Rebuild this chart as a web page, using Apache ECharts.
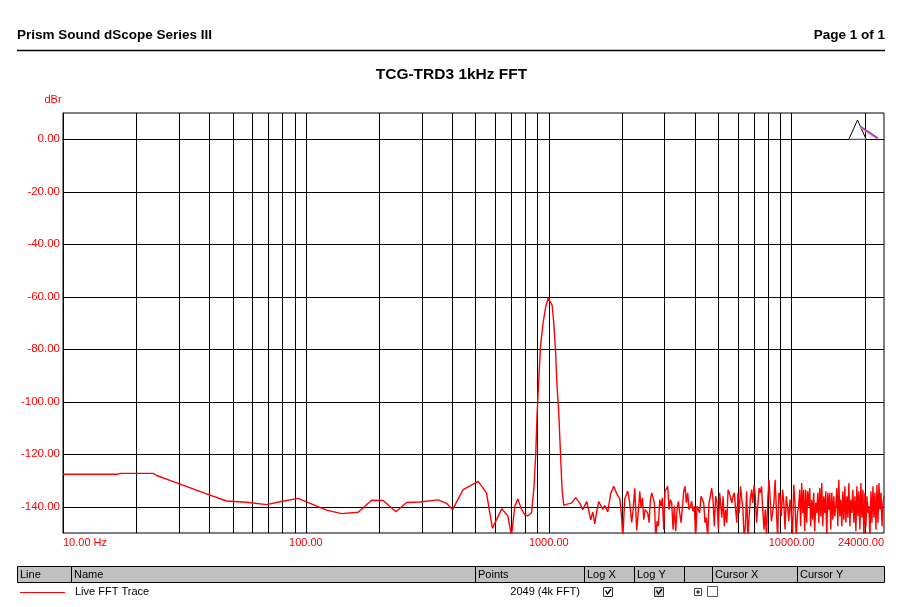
<!DOCTYPE html>
<html><head><meta charset="utf-8">
<script src="https://cdn.jsdelivr.net/npm/echarts@6/dist/echarts.min.js"></script>
<style>html,body{margin:0;padding:0;background:#fff}#c{width:903px;height:607px}</style>
</head><body><div id="c"></div>
<script>
// ---- texts ----
const headerLeft = 'Prism Sound dScope Series III';
const headerRight = 'Page 1 of 1';
const chartTitle = 'TCG-TRD3 1kHz FFT';
const yUnit = 'dBr';
const tableHeaders = ['Line', 'Name', 'Points', 'Log X', 'Log Y', '', 'Cursor X', 'Cursor Y'];
const traceName = 'Live FFT Trace';
const tracePoints = '2049 (4k FFT)';

// ---- axes ----
const yMin = -150, yMax = 10, yStep = 10;
const yGridValues = [0, -20, -40, -60, -80, -100, -120, -140];
const xMin = 10, xMax = 24000;
const xGridHz = [20,30,40,50,60,70,80,90,100,200,300,400,500,600,700,800,900,1000,
  2000,3000,4000,5000,6000,7000,8000,9000,10000,20000];

// ---- trace, low / peak region (Hz, dBr) ----
const traceHz = [10,16.8,17.2,23.5,24.3,29.4,40.3,47.2,57.0,68.9,78.2,93.0,107.2,121.7,140.3,164.1,186.4,208.0,
  234.6,259.7,294.5,350.3,379.3,401.6,444.0,512.0,554.2,571.8,586.6,609.3,640.7,678.2,702.4,724.7,745.6,772.2,
  796.7,819.7,849.0,867.7,884.3,895.3,909.7,924.4,947.4,971.9,993.4,1009.5,1031.8,1048.6,1065.6,1081.9,1099.6,
  1117.2,1134.2,1152.7,1190,1240,1291,1341,1380,1433,1489,1517,1546,1575,1606,1668,1700,1749,1799,1851,1905,
  1960,1998,2017,2055,2114,2154,2195,2226,2259,2302,2346];
const traceDb = [-127.6,-127.6,-127.3,-127.3,-128.1,-130.9,-135.6,-137.8,-138.3,-139.2,-138.1,-136.8,-139.2,-141.3,
  -142.6,-142.1,-137.5,-137.6,-141.9,-138.4,-138.2,-137.4,-138.7,-141.1,-133.5,-130.3,-134.7,-142.3,-148.2,-144.9,
  -140.7,-143.5,-151,-139.8,-137.0,-141.0,-143.0,-143.5,-142.3,-133.5,-119.5,-104.3,-91.6,-79.0,-70.0,-63.8,-60.6,
  -60.2,-63.1,-70.0,-80.2,-94.2,-104.3,-119.5,-133.5,-139.5,-139.0,-138.6,-136.5,-138.6,-141.1,-138.0,-145.0,
  -142.0,-146.5,-142.0,-138.0,-141.0,-139.5,-142.0,-135.0,-132.2,-135.0,-137.0,-144.6,-152,-137.0,-134.0,-138.5,
  -146.0,-141.0,-133.0,-149.0,-140.0];

// ---- trace, noise floor readings (read at even pixel steps across each span) ----
const noiseAFromHz = 2369, noiseAToHz = 5054;
const noiseADb = [-134.1,-140.4,-136.6,-144.9,-141.1,-140.4,-142.4,-146.1,-137.3,-134.7,-134.1,-138.5,-152,-145.5,
  -147.4,-137.3,-139.8,-136.6,-148.7,-134.1,-133.5,-132.2,-141.1,-137.3,-138.5,-148.7,-139.8,-149.3,-141.1,-137.9,
  -142.4,-146.1,-140.4,-134.1,-132.2,-138.5,-134.7,-141.1,-139.8,-137.9,-141.7,-139.8,-152,-139.8,-141.1,-142.4,
  -136.0,-135.4,-138.5,-146.1,-144.2,-152,-138.5,-136.0,-132.9,-137.3,-147.4,-136.0,-138.5,-148.7,-134.7];
const noiseBFromHz = 5100, noiseBToHz = 10690;
const noiseBDb = [-134.7,-144.2,-136.0,-147.4,-141.1,-146.1,-133.5,-134.7,-134.1,-138.5,-136.0,-134.7,-140.4,-146.1,
  -134.7,-142.4,-132.2,-131.6,-141.1,-152,-147.4,-134.1,-152,-143.6,-137.3,-133.5,-138.5,-131.6,-136.0,-146.1,
  -139.8,-132.9,-134.7,-132.2,-141.1,-148.7,-141.1,-152,-137.9,-129.7,-137.3,-145.5,-144.9,-138.5,-129.7,-141.1,
  -152,-134.7,-136.0,-143.6,-133.5,-138.5,-148.7,-136.0,-139.8,-145.5,-137.3,-142.4,-152,-131.6,-138.5,-152,
  -142.4,-139.8];
const noiseCFromHz = 10790, noiseCToHz = 24000;
const noiseCDb = [-133.5,-147.4,-131.0,-142.4,-133.5,-149.3,-133.5,-146.1,-134.1,-139.8,
  -132.9,-147.4,-137.3,-144.9,-134.7,-149.3,-138.5,-142.4,-134.7,-146.1,
  -132.9,-143.6,-131.0,-147.4,-136.0,-142.4,-134.1,-152,-134.7,-141.1,
  -134.7,-148.7,-134.7,-144.9,-136.0,-143.6,-139.8,-132.9,-147.4,-129.7,
  -143.6,-137.3,-147.4,-134.1,-144.9,-132.2,-146.1,-136.0,-144.2,-131.0,
  -147.4,-137.3,-142.4,-133.5,-146.1,-136.0,-149.3,-132.2,-143.6,-134.1,
  -148.7,-131.0,-144.2,-133.5,-152,-134.7,-147.4,-136.0,-142.4,-139.8,
  -152,-134.1,-146.1,-132.2,-144.2,-134.7,-148.7,-131.6,-146.1,-131.0,
  -141.1,-134.7,-147.4,-138.5,-136.0];

// ---- build series data ----
const data = traceHz.map((f, i) => [f, traceDb[i]]);
function addSpan(fromHz, toHz, dbs) {
  const n = dbs.length;
  const r = Math.log(toHz / fromHz);
  dbs.forEach((v, i) => data.push([fromHz * Math.exp(r * i / (n - 1)), v]));
}
addSpan(noiseAFromHz, noiseAToHz, noiseADb);
addSpan(noiseBFromHz, noiseBToHz, noiseBDb);
addSpan(noiseCFromHz, noiseCToHz, noiseCDb);

const FONT = '"Liberation Sans", Arial, sans-serif';
const RED = '#ff0000';

// ---- page graphics (header, table, cursor icon) ----
const g = [];
g.push({type:'text', left:17, top:28, style:{text:headerLeft, font:'bold 13.5px ' + FONT, fill:'#000'}});
g.push({type:'text', right:18, top:28, style:{text:headerRight, font:'bold 13.5px ' + FONT, fill:'#000'}});
g.push({type:'line', shape:{x1:17, y1:50.5, x2:885, y2:50.5}, style:{stroke:'#000', lineWidth:1.3}});
g.push({type:'text', x:53, y:100, style:{text:yUnit, font:'11px ' + FONT, fill:RED, align:'center', verticalAlign:'middle'}});
// cursor icon
g.push({type:'polyline', shape:{points:[[849,139],[857.5,120],[866,139]]}, style:{stroke:'#000', lineWidth:1, fill:null}, z:20});
g.push({type:'line', shape:{x1:849, y1:139, x2:866, y2:139}, style:{stroke:'#aaa', lineWidth:1}, z:20});
g.push({type:'line', shape:{x1:860, y1:127, x2:878, y2:139}, style:{stroke:'#ff6aa0', lineWidth:2}, z:20});
g.push({type:'line', shape:{x1:860, y1:126, x2:878, y2:138}, style:{stroke:'#7a3cd0', lineWidth:1.4}, z:21});
// table header
const colX = [17, 71, 475, 584, 634, 684, 712, 797];
g.push({type:'rect', shape:{x:17.5, y:566.5, width:867, height:16}, style:{fill:'#c0c0c0', stroke:'#000', lineWidth:1}});
colX.slice(1).forEach(x => g.push({type:'line', shape:{x1:x+0.5, y1:566.5, x2:x+0.5, y2:582.5}, style:{stroke:'#000', lineWidth:1}}));
tableHeaders.forEach((t, i) => g.push({type:'text', x:colX[i] + 3, y:575, style:{text:t, font:'11px ' + FONT, fill:'#000', verticalAlign:'middle'}}));
// table row
g.push({type:'line', shape:{x1:20, y1:592.5, x2:65, y2:592.5}, style:{stroke:RED, lineWidth:1}});
g.push({type:'text', x:75, y:592, style:{text:traceName, font:'11px ' + FONT, fill:'#000', verticalAlign:'middle'}});
g.push({type:'text', x:580, y:592, style:{text:tracePoints, font:'11px ' + FONT, fill:'#000', align:'right', verticalAlign:'middle'}});
[[603.5, '#fff'], [654.5, '#d8d8d8']].forEach(([x, bg]) => {
  g.push({type:'rect', shape:{x:x, y:587.5, width:9, height:9}, style:{fill:bg, stroke:'#333', lineWidth:1}});
  g.push({type:'polyline', shape:{points:[[x+2,590.5],[x+4,594],[x+7.5,589]]}, style:{stroke:'#000', lineWidth:1.4, fill:null}});
});
g.push({type:'rect', shape:{x:694.5, y:588.5, width:7, height:7}, style:{fill:'#fff', stroke:'#444', lineWidth:1}});
g.push({type:'line', shape:{x1:696, y1:592, x2:700, y2:592}, style:{stroke:'#000', lineWidth:1}});
g.push({type:'line', shape:{x1:698, y1:590, x2:698, y2:594}, style:{stroke:'#000', lineWidth:1}});
g.push({type:'rect', shape:{x:707.5, y:586.5, width:10, height:10}, style:{fill:'#fff', stroke:'#555', lineWidth:1}});

const chart = echarts.init(document.getElementById('c'), null, {renderer:'canvas'});
chart.setOption({
  animation: false,
  backgroundColor: '#fff',
  textStyle: {fontFamily: FONT},
  title: {text: chartTitle, left: 'center', top: 62,
    textStyle: {fontSize: 15.5, fontWeight: 'bold', color: '#000', fontFamily: FONT}},
  grid: {left: 63, right: 19, top: 113, bottom: 74, show: true, borderColor: '#000', borderWidth: 1,
    backgroundColor: 'transparent'},
  xAxis: {type: 'log', logBase: 10, min: xMin, max: xMax,
    axisLine: {show: true, lineStyle: {color: '#000', width: 1}},
    axisTick: {show: false}, splitLine: {show: false}, minorSplitLine: {show: false},
    axisLabel: {color: RED, fontSize: 11, margin: 4, showMinLabel: true, showMaxLabel: true,
      alignMinLabel: 'left', alignMaxLabel: 'right',
      formatter: v => Math.abs(v - 10) < 0.01 ? '10.00 Hz' : Math.round(v).toFixed(2)}},
  yAxis: {type: 'value', min: yMin, max: yMax, interval: yStep,
    axisLine: {show: true, lineStyle: {color: '#000', width: 1}},
    axisTick: {show: false}, splitLine: {show: false},
    axisLabel: {color: RED, fontSize: 11.5, margin: 3,
      formatter: v => (v <= 0 && v % 20 === 0) ? v.toFixed(2) : ''}},
  graphic: g,
  series: [{
    name: traceName, type: 'line', data: data, symbol: 'none', showSymbol: false, clip: true, z: 3,
    lineStyle: {color: RED, width: 1.4}, silent: true,
    markLine: {silent: true, symbol: ['none', 'none'], z: 1, animation: false, label: {show: false},
      lineStyle: {color: '#000', width: 1, type: 'solid'}, emphasis: {disabled: true},
      data: xGridHz.map(v => ({xAxis: v})).concat(yGridValues.map(v => ({yAxis: v})))}
  }]
});
</script></body></html>
